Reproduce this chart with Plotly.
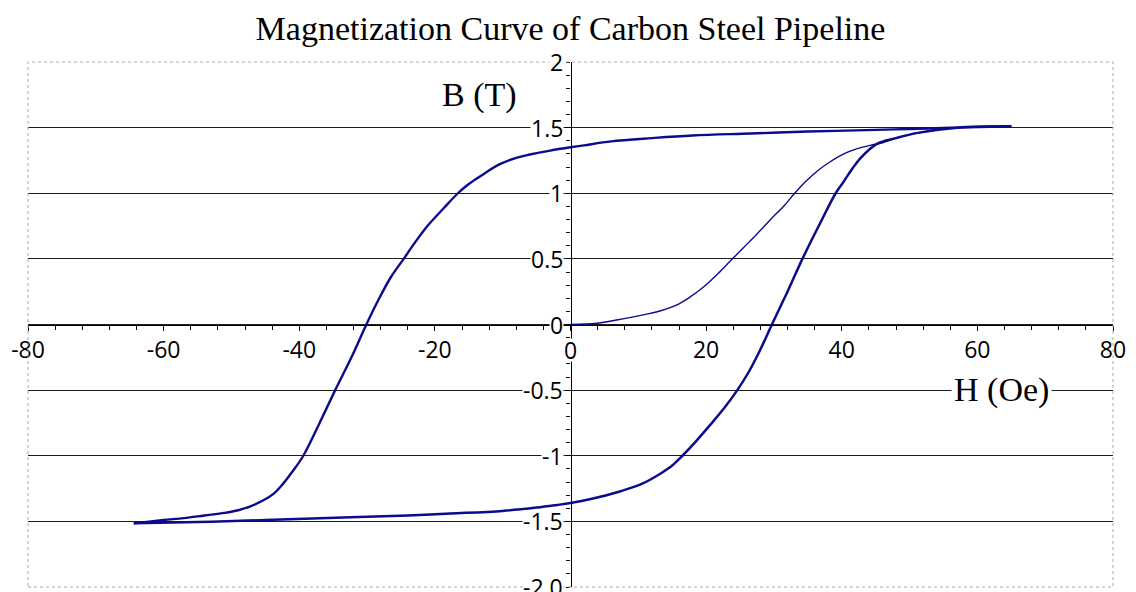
import plotly.graph_objects as go

# ---- data ----
H_init = [0, 3.9, 7.9, 11.8, 13.3, 15.7, 17.5, 19.7, 21.7, 23.6, 25.5, 27.5, 29.5, 31.5,
          32.9, 34.6, 36.4, 38.3, 40.3, 42.3, 44.2, 46, 48, 51.2, 57, 65]
B_init = [0, 0.01, 0.045, 0.085, 0.105, 0.15, 0.205, 0.29, 0.385, 0.485, 0.585, 0.69, 0.80, 0.905,
          0.99, 1.085, 1.17, 1.24, 1.30, 1.34, 1.365, 1.385, 1.42, 1.46, 1.50, 1.51]

H_desc = [65, 57, 50, 45, 35, 26.6, 18, 12, 6, 2, 0, -3, -6, -8, -10.5, -13.3, -15, -16.6,
          -18.8, -21.1, -23, -24.6, -26.5, -28.3, -30.1, -32.3, -34.7, -37, -39.4, -41,
          -42.5, -43.8, -45.5, -47.2, -49, -51, -54, -57, -60, -64.4]
B_desc = [1.51, 1.50, 1.49, 1.483, 1.47, 1.455, 1.44, 1.42, 1.395, 1.365, 1.35, 1.325, 1.295,
          1.27, 1.22, 1.13, 1.07, 1.0, 0.88, 0.75, 0.62, 0.5, 0.36, 0.19, 0.0, -0.25, -0.5,
          -0.75, -1.0, -1.12, -1.22, -1.29, -1.345, -1.385, -1.415, -1.435, -1.455, -1.475,
          -1.49, -1.515]

H_asc = [-64.4, -55, -45, -32.4, -24, -17.7, -10, -5, -2, 0, 3, 7.4, 10.5, 13.3, 15, 16.5,
         18.5, 20.6, 22.7, 24.6, 26.3, 28.0, 29.7, 32.0, 34.2, 36.6, 39.1, 40.3, 41.6, 42.8,
         45.2, 48, 51.2, 57, 65]
B_asc = [-1.515, -1.505, -1.49, -1.468, -1.455, -1.44, -1.42, -1.395, -1.375, -1.36, -1.33,
         -1.27, -1.215, -1.135, -1.075, -1.0, -0.89, -0.765, -0.635, -0.5, -0.36, -0.19, 0.0,
         0.25, 0.5, 0.75, 1.0, 1.09, 1.19, 1.27, 1.376, 1.42, 1.46, 1.50, 1.51]

x_ticks = [-80, -60, -40, -20, 0, 20, 40, 60, 80]
x_labels = ["-80", "-60", "-40", "-20", "0", "20", "40", "60", "80"]
y_ticks = [2, 1.5, 1, 0.5, 0, -0.5, -1, -1.5, -2]
y_labels = ["2", "1.5", "1", "0.5", "0", "-0.5", "-1", "-1.5", "-2.0"]
y_grid = [-1.5, -1, -0.5, 0, 0.5, 1, 1.5]

title = "Magnetization Curve of Carbon Steel Pipeline"
x_title = "H (Oe)"
y_title = "B (T)"

LINE = "#0b0b8c"
TICKFONT = dict(family="Open Sans", size=23, color="black")
SERIF = dict(family="Liberation Serif", size=34, color="black")
SMOOTH = 1.0

# the page body has an 8px margin; size the figure so the plot lands where the reference's does
PAGE_OFF = 8
W, H = 1136 - PAGE_OFF, 592 - PAGE_OFF

fig = go.Figure()
fig.add_trace(go.Scatter(x=H_init, y=B_init, mode="lines",
                         line=dict(color=LINE, width=1.4, shape="spline", smoothing=SMOOTH),
                         showlegend=False))
fig.add_trace(go.Scatter(x=H_desc, y=B_desc, mode="lines",
                         line=dict(color=LINE, width=2.4, shape="spline", smoothing=SMOOTH),
                         showlegend=False))
fig.add_trace(go.Scatter(x=H_asc, y=B_asc, mode="lines",
                         line=dict(color=LINE, width=2.5, shape="spline", smoothing=SMOOTH),
                         showlegend=False))

fig.update_layout(
    width=W, height=H,
    margin=dict(l=28 - PAGE_OFF, r=23, t=62 - PAGE_OFF, b=5, autoexpand=False),
    paper_bgcolor="white", plot_bgcolor="white",
    title=dict(text=title, x=(570.5 - PAGE_OFF) / W, xanchor="center",
               y=1 - (28 - PAGE_OFF) / H, yanchor="middle", font=SERIF),
    xaxis=dict(range=[-80, 80], anchor="free", position=0.5, automargin=False,
               showline=True, linecolor="black", linewidth=1.3,
               ticks="outside", ticklen=5, tickcolor="black", tickwidth=1,
               tickvals=x_ticks,
               ticktext=[("" if v == 0 else t) for v, t in zip(x_ticks, x_labels)],
               tickfont=TICKFONT, ticklabelstandoff=0,
               showgrid=False, zeroline=False,
               minor=dict(ticks="outside", ticklen=4, tickcolor="black",
                          tick0=0, dtick=4, showgrid=False)),
    yaxis=dict(range=[-2, 2], anchor="free", position=0.5, automargin=False,
               showline=True, linecolor="black", linewidth=1.3,
               ticks="outside", ticklen=4, tickcolor="black",
               tickvals=y_grid, showticklabels=False,
               showgrid=True, gridcolor="#1e1e1e", gridwidth=1.3, zeroline=False,
               minor=dict(ticks="outside", ticklen=4, tickcolor="black",
                          tick0=0, dtick=0.1, showgrid=False)),
)

# plot-area border (grey dotted)
fig.add_shape(type="rect", xref="paper", yref="paper", x0=0, x1=1, y0=0, y1=1,
              line=dict(color="#a8a8a8", width=1, dash="dot"), layer="above")

# y tick labels with white background (they break the gridlines)
for v, t in zip(y_ticks, y_labels):
    fig.add_annotation(x=0, y=v, xref="x", yref="y", text=t, showarrow=False,
                       xanchor="right", yanchor="middle", xshift=-7, height=20,
                       bgcolor="white", borderpad=0, font=TICKFONT)

# x label "0" sits on the y axis line, so it gets a white background
fig.add_annotation(x=0, y=0, xref="x", yref="y", text=x_labels[x_ticks.index(0)],
                   showarrow=False, xanchor="center", yanchor="middle", yshift=-25,
                   height=22, bgcolor="white", borderpad=0, font=TICKFONT)

# axis titles
fig.add_annotation(x=(479 - 28) / 1085, y=(587 - 95) / 525, xref="paper", yref="paper",
                   text=y_title, showarrow=False, font=SERIF, borderpad=0,
                   xanchor="center", yanchor="middle")
fig.add_annotation(x=(1052 - 28) / 1085, y=(587 - 390) / 525, xref="paper", yref="paper",
                   text=x_title, showarrow=False, font=SERIF, bgcolor="white", borderpad=2)

fig.write_html("out.html")
